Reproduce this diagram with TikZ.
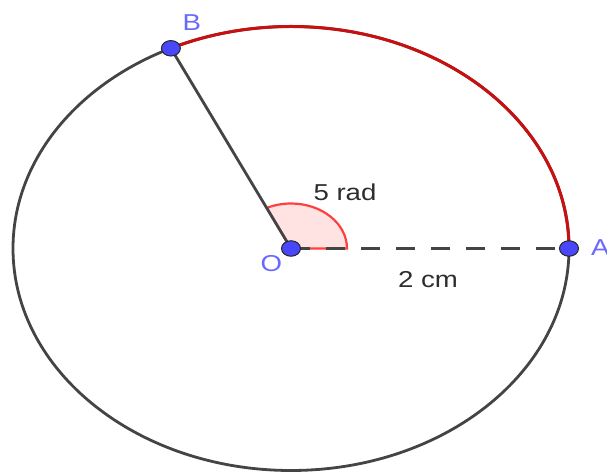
\documentclass[tikz,border=0pt]{standalone}
\usepackage{fontspec}
\setmainfont{Liberation Sans}
\usetikzlibrary{shapes.geometric}
\definecolor{circgray}{RGB}{68,68,68}
\definecolor{arcred}{RGB}{200,16,16}
\definecolor{secred}{RGB}{255,64,64}
\definecolor{secfill}{RGB}{255,226,226}
\definecolor{ptblue}{RGB}{72,72,250}
\definecolor{lblblue}{RGB}{105,105,255}
\definecolor{txtgray}{RGB}{45,45,45}
\tikzset{
  circline/.style={draw=circgray, line width=2.8pt},
  redarc/.style={draw=arcred, line width=3pt},
  sectorstyle/.style={fill=secfill, draw=secred, line width=2.2pt},
  seg/.style={draw=circgray, line width=2.8pt},
  dashseg/.style={draw=circgray, line width=3pt, dash pattern=on 19pt off 16pt},
  ptdot/.style={ellipse, fill=ptblue, draw=black!85, line width=1pt, minimum width=19pt, minimum height=15.5pt, inner sep=0pt},
  ptlbl/.style={text=lblblue, inner sep=0pt, font=\fontsize{23}{27}\selectfont},
  txtlbl/.style={text=txtgray, inner sep=0pt, font=\fontsize{23}{27}\selectfont}
}
\begin{document}
\begin{tikzpicture}[x=1pt,y=1pt]
\useasboundingbox (0,0) rectangle (607,473);
\coordinate (O) at (291,224.5);
\coordinate (A) at (569,224.5);
\coordinate (B) at (170.9,424.7);
% circle (stretched)
\draw[circline] (O) ellipse [x radius=278pt, y radius=222pt];
% red arc from A to B
\draw[redarc] (A) arc[start angle=0, end angle=115.6, x radius=278pt, y radius=222pt];
% angle sector
\filldraw[sectorstyle] (O) -- ++(56pt,0) arc[start angle=0, end angle=115.6, x radius=56pt, y radius=45pt] -- cycle;
% segments
\draw[seg] (O) -- (B);
\draw[dashseg] (O) -- (A);
% points
\node[ptdot] (Odot) at (O) {};
\node[ptdot] (Adot) at (A) {};
\node[ptdot] (Bdot) at (B) {};
% labels
\node[ptlbl, anchor=base west] (Blbl) at (182.5,442) {\scalebox{1.2}[1]{B}};
\node[ptlbl, anchor=base west] (Olbl) at (260.5,201.5) {\scalebox{1.2}[1]{O}};
\node[ptlbl, anchor=base west] (Albl) at (591,217) {\scalebox{1.2}[1]{A}};
\node[txtlbl, anchor=base] (angl) at (345,272) {\scalebox{1.2}[1]{5 rad}};
\node[txtlbl, anchor=base] (dist) at (428,185) {\scalebox{1.2}[1]{2 cm}};
\end{tikzpicture}
\end{document}
